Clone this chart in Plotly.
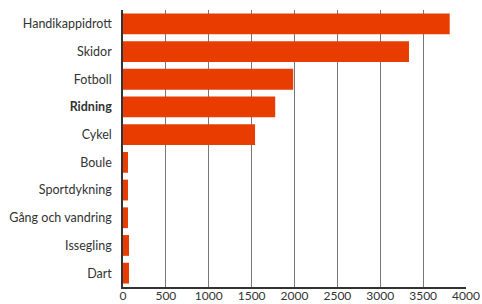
import plotly.graph_objects as go

categories = ["Handikappidrott", "Skidor", "Fotboll", "Ridning", "Cykel",
              "Boule", "Sportdykning", "Gång och vandring", "Issegling", "Dart"]
values = [3810, 3335, 1985, 1775, 1540, 58, 58, 58, 70, 70]
tick_labels = ["Handikappidrott", "Skidor", "Fotboll", "<b>Ridning</b>", "Cykel",
               "Boule", "Sportdykning", "Gång och vandring", "Issegling", "Dart"]
x_ticks = [0, 500, 1000, 1500, 2000, 2500, 3000, 3500, 4000]

fig = go.Figure(go.Bar(
    x=values, y=categories, orientation="h",
    marker=dict(color="#E83C00", line=dict(width=0)),
    hoverinfo="skip",
))

fig.update_layout(
    width=482, height=304,
    margin=dict(l=123, r=16, t=9.5, b=16.5, autoexpand=False),
    paper_bgcolor="white", plot_bgcolor="white",
    bargap=0.25,
    font=dict(family="Lato", size=12.5, color="#333333"),
    showlegend=False,
)
fig.update_xaxes(
    range=[0, 4000], tickvals=x_ticks, ticktext=[str(v) for v in x_ticks],
    showgrid=True, gridcolor="#777777", gridwidth=1,
    showline=True, linecolor="#333333", linewidth=1.5,
    zeroline=False, ticks="", automargin=False,
    ticklabelstandoff=-3,
    tickfont=dict(size=12, color="#333333"),
)
fig.update_yaxes(
    categoryorder="array", categoryarray=categories,
    tickvals=categories, ticktext=tick_labels,
    autorange="reversed", automargin=False,
    showline=True, linecolor="#333333", linewidth=1.5,
    showgrid=False, ticks="", ticklabelstandoff=7,
    tickfont=dict(size=12.5, color="#333333"),
)

fig.write_html("out.html", config={"displayModeBar": False},
               post_script="document.body.style.margin='0';")
